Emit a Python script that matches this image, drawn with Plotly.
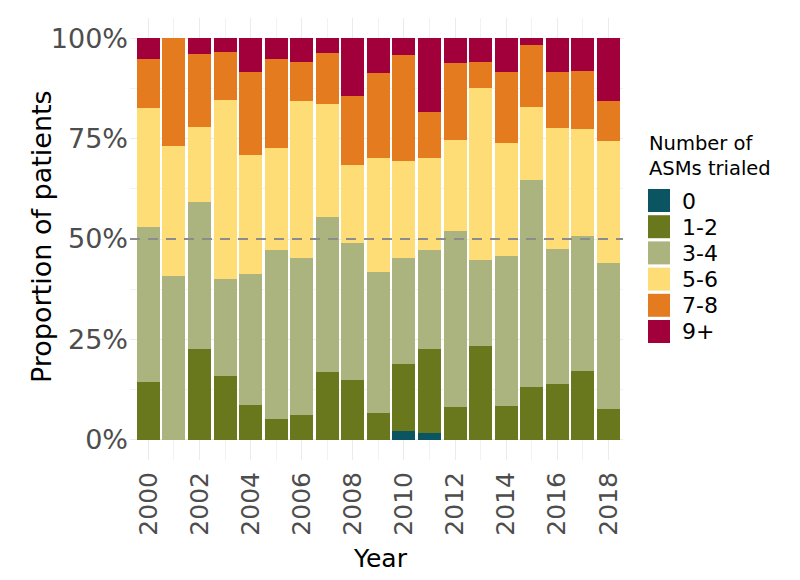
import plotly.graph_objects as go

years = list(range(2000, 2019))
categories = ["0", "1-2", "3-4", "5-6", "7-8", "9+"]
y_ticks = [0, 25, 50, 75, 100]
y_tick_labels = ["0%", "25%", "50%", "75%", "100%"]
x_ticks = list(range(2000, 2019, 2))

# percentages per year (2000..2018)
asm_0   = [0, 0, 0, 0, 0, 0, 0, 0, 0, 0, 2.1, 1.6, 0, 0, 0, 0, 0, 0, 0]
asm_1_2 = [14.5, 0, 22.6, 15.9, 8.7, 5.2, 6.1, 16.8, 14.8, 6.8, 16.8, 21.0, 8.3, 23.3, 8.5, 13.1, 13.9, 17.2, 7.7]
asm_3_4 = [38.5, 40.9, 36.7, 24.1, 32.6, 42.1, 39.1, 38.7, 34.3, 35.1, 26.4, 24.7, 43.6, 21.5, 37.2, 51.6, 33.5, 33.6, 36.3]
asm_5_6 = [29.7, 32.2, 18.5, 44.6, 29.6, 25.3, 39.1, 28.0, 19.3, 28.2, 24.1, 22.8, 22.7, 42.9, 28.3, 18.1, 30.2, 26.5, 30.3]
asm_7_8 = [12.0, 26.9, 18.2, 12.0, 20.7, 22.3, 9.8, 12.8, 17.2, 21.1, 26.4, 11.4, 19.1, 6.4, 17.6, 15.6, 14.0, 14.5, 10.1]
asm_9p  = [5.3, 0, 4.0, 3.4, 8.4, 5.1, 5.9, 3.7, 14.4, 8.8, 4.2, 18.5, 6.3, 5.9, 8.4, 1.6, 8.4, 8.2, 15.6]

series = [asm_0, asm_1_2, asm_3_4, asm_5_6, asm_7_8, asm_9p]
colors = ["#0B5563", "#69771D", "#ABB37F", "#FEDC76", "#E47B1E", "#A2003A"]

FONT = "DejaVu Sans"
W, H = 800, 580
L, R, T, B = 130, 623, 18, 460  # panel pixel box

def px(x):
    return (x - L) / (R - L)

def py(y):
    return (B - y) / (B - T)

fig = go.Figure()
for name, vals, col in zip(categories, series, colors):
    fig.add_trace(go.Bar(
        x=years, y=vals, name=name, marker_color=col,
        marker_line_width=0, showlegend=False,
    ))

# 50% reference line
fig.add_shape(type="line", xref="paper", yref="y", x0=0, x1=1, y0=50, y1=50,
              line=dict(color="#8C8C8C", width=2.2, dash="10px,8px"), layer="above")

# axis titles and custom legend
ann = [
    dict(text="Proportion of patients", x=px(41), y=py(237), xref="paper", yref="paper",
         xanchor="center", yanchor="middle", textangle=-90, showarrow=False,
         font=dict(family=FONT, size=27, color="#000000")),
    dict(text="Year", x=px(380), y=py(558), xref="paper", yref="paper",
         xanchor="center", yanchor="middle", showarrow=False,
         font=dict(family=FONT, size=25, color="#000000")),
    dict(text="Number of<br>ASMs trialed", x=px(647), y=py(130), xref="paper", yref="paper",
         xanchor="left", yanchor="top", showarrow=False, align="left",
         font=dict(family=FONT, size=19.5, color="#000000")),
]
for i, (name, col) in enumerate(zip(categories, colors)):
    top = 189 + 26.2 * i
    fig.add_shape(type="rect", xref="paper", yref="paper",
                  x0=px(648), x1=px(670), y0=py(top + 23), y1=py(top),
                  fillcolor=col, line=dict(width=0))
    ann.append(dict(text=name, x=px(681), y=py(top + 12), xref="paper", yref="paper",
                    xanchor="left", yanchor="middle", showarrow=False, borderpad=0,
                    font=dict(family=FONT, size=22, color="#000000")))

fig.update_layout(
    barmode="stack", bargap=0.1,
    width=W, height=H,
    margin=dict(l=L, r=W - R, t=T, b=H - B, autoexpand=False),
    plot_bgcolor="white", paper_bgcolor="white",
    font=dict(family=FONT, color="#4D4D4D"),
    annotations=ann,
)
fig.update_xaxes(
    range=[1999.28, 2018.57], tickmode="array", tickvals=x_ticks,
    tickangle=-90, tickfont=dict(size=25, color="#4D4D4D"), ticklabelstandoff=6,
    showgrid=True, gridcolor="#EBEBEB", gridwidth=1.4,
    minor=dict(tickvals=list(range(2001, 2019, 2)), showgrid=True, gridcolor="#F2F2F2", gridwidth=0.7),
    zeroline=False, showline=False, ticks="", automargin=False,
)
fig.update_yaxes(
    range=[-5, 105], tickmode="array", tickvals=y_ticks, ticktext=y_tick_labels,
    tickfont=dict(size=27, color="#4D4D4D"), ticklabelstandoff=1,
    showgrid=True, gridcolor="#EBEBEB", gridwidth=1.4,
    minor=dict(tickvals=[12.5, 37.5, 62.5, 87.5], showgrid=True, gridcolor="#F2F2F2", gridwidth=0.7),
    zeroline=False, showline=False, ticks="", automargin=False,
)

fig.write_html("out.html", config={"displayModeBar": False},
               post_script="document.body.style.margin='0';")
